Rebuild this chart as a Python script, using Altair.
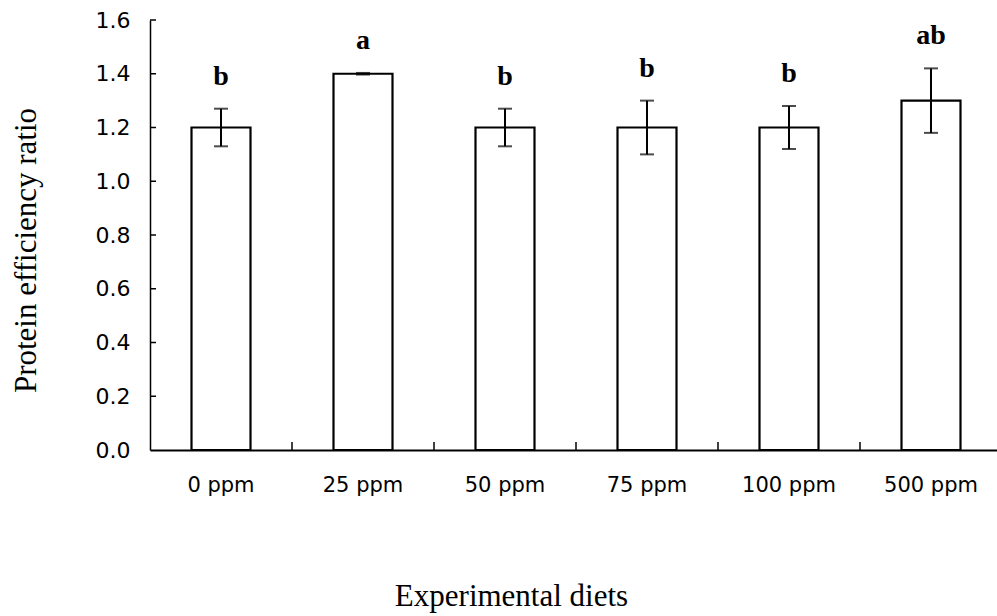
import altair as alt
import pandas as pd

# Protein efficiency ratio by experimental diet (mean, SD, significance letter)
diets = ["0 ppm", "25 ppm", "50 ppm", "75 ppm", "100 ppm", "500 ppm"]
per_mean = [1.20, 1.40, 1.20, 1.20, 1.20, 1.30]
per_sd = [0.07, 0.003, 0.07, 0.10, 0.08, 0.12]
sig_letters = ["b", "a", "b", "b", "b", "ab"]
y_tick_values = [0.2, 0.4, 0.6, 0.8, 1.0, 1.2, 1.4, 1.6]

df = pd.DataFrame({
    "diet": diets,
    "per": per_mean,
    "lo": [m - s for m, s in zip(per_mean, per_sd)],
    "hi": [m + s for m, s in zip(per_mean, per_sd)],
    "letter": sig_letters,
})
yticks_df = pd.DataFrame({"v": y_tick_values})
xticks_df = pd.DataFrame({"diet": diets[1:]})

PLOT_W, PLOT_H = 847, 430
x_scale = alt.Scale(domain=diets, range=[0, 852], paddingInner=0, paddingOuter=0)
y_scale = alt.Scale(domain=[0, 1.6], nice=False, zero=True)

x_axis = alt.Axis(
    title="Experimental diets",
    titleFont="Liberation Serif", titleFontSize=31, titleFontWeight="normal",
    titleColor="black", titleX=361, titleY=155, titleBaseline="alphabetic",
    titleAlign="center", titleAnchor=None,
    labelFont="DejaVu Sans", labelFontSize=21, labelColor="black",
    labelPadding=24, labelAngle=0,
    ticks=False, tickSize=0, domainColor="black", domainWidth=2, grid=False,
)
y_axis = alt.Axis(
    title="Protein efficiency ratio",
    titleFont="Liberation Serif", titleFontSize=31, titleFontWeight="normal",
    titleColor="black", titleAngle=-90, titleX=-115, titleY=230,
    titleBaseline="alphabetic", titleAlign="center",
    labelFont="DejaVu Sans", labelFontSize=22, labelColor="black",
    labelPadding=20, format=".1f", values=[0.0] + y_tick_values,
    ticks=False, tickSize=0, domainColor="black", domainWidth=1.5, grid=False,
)

base = alt.Chart(df)

bars = base.mark_bar(fill="white", stroke="black", strokeWidth=2.2, size=59).encode(
    x=alt.X("diet:N", scale=x_scale, axis=x_axis, sort=diets),
    y=alt.Y("per:Q", scale=y_scale, axis=y_axis),
)

err_rule = base.mark_rule(color="black", strokeWidth=2).encode(
    x=alt.X("diet:N", sort=diets),
    y="lo:Q",
    y2="hi:Q",
)
cap_lo = base.mark_tick(color="black", thickness=2, size=14, orient="horizontal").encode(
    x=alt.X("diet:N", sort=diets), y="lo:Q"
)
cap_hi = base.mark_tick(color="black", thickness=2, size=14, orient="horizontal").encode(
    x=alt.X("diet:N", sort=diets), y="hi:Q"
)

labels = base.mark_text(
    font="Liberation Serif", fontSize=28, fontWeight="bold", color="black",
    baseline="alphabetic", dy=-24,
).encode(
    x=alt.X("diet:N", sort=diets), y="hi:Q", text="letter:N"
)

# inward ticks on the value axis
y_ticks = alt.Chart(yticks_df).mark_rule(color="black", strokeWidth=1.5).encode(
    y="v:Q", x=alt.value(0), x2=alt.value(6)
)
# inward ticks at category boundaries on the diet axis
x_ticks = alt.Chart(xticks_df).mark_rule(color="black", strokeWidth=1.5).encode(
    x=alt.X("diet:N", bandPosition=0, sort=diets),
    y=alt.value(PLOT_H), y2=alt.value(PLOT_H - 8),
)

chart = alt.layer(bars, err_rule, cap_lo, cap_hi, labels, y_ticks, x_ticks).properties(
    width=PLOT_W, height=PLOT_H,
    autosize=alt.AutoSizeParams(type="none"),
    padding={"left": 150, "top": 20, "right": 0, "bottom": 166},
    background="white",
).configure_view(stroke=None)

chart.save("out.html", embed_options={"renderer": "svg", "actions": False})
